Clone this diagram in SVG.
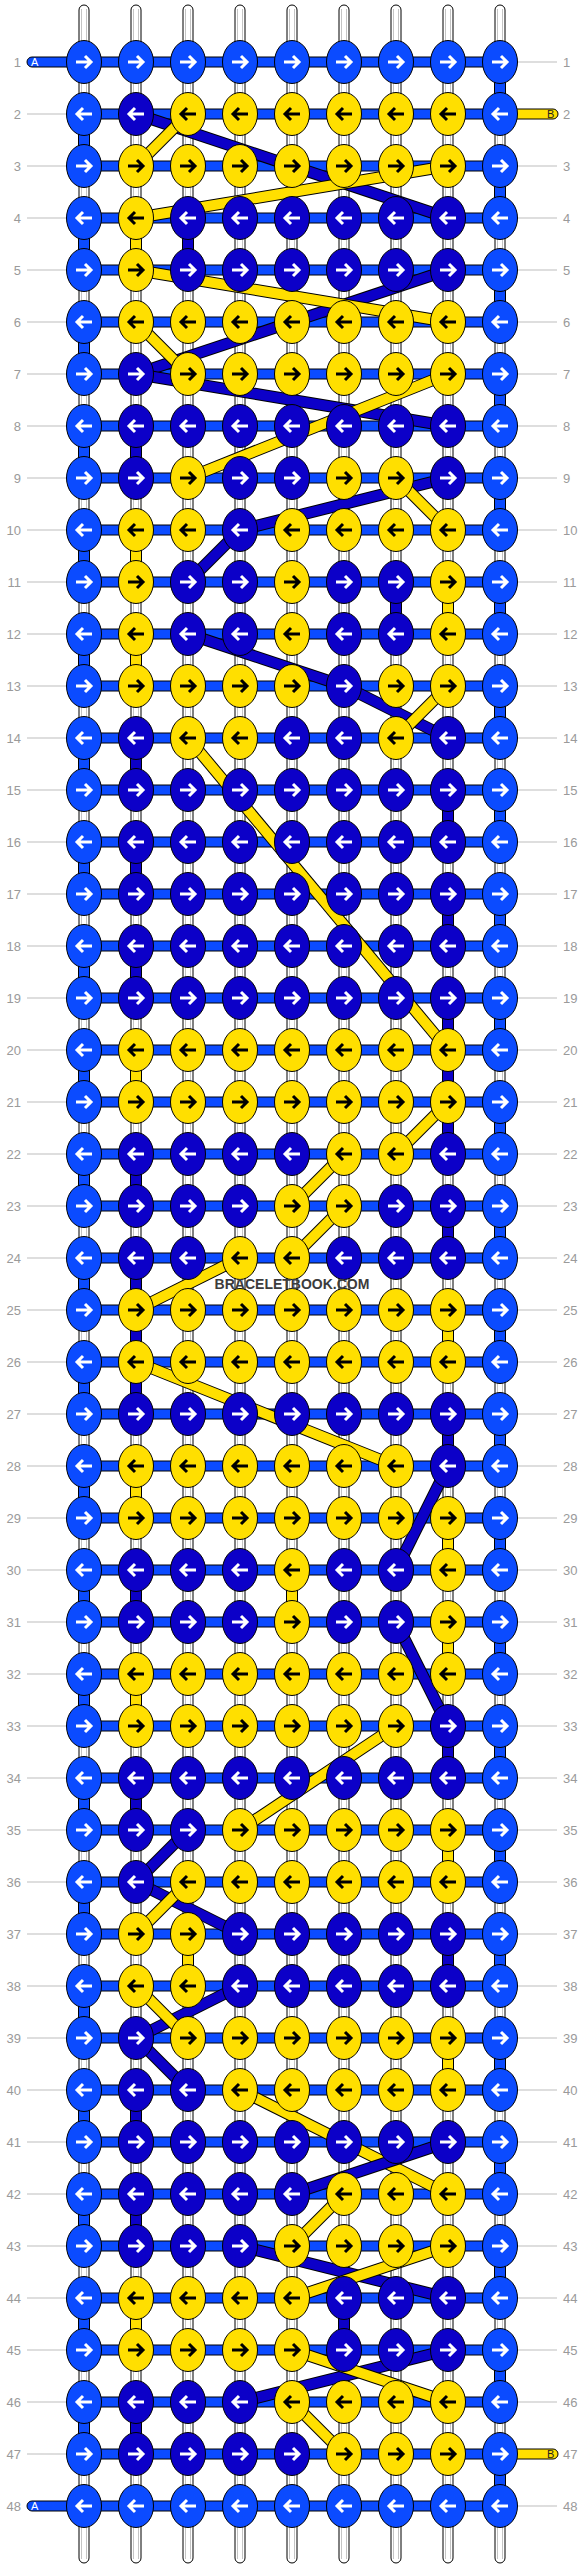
<svg xmlns="http://www.w3.org/2000/svg" xmlns:xlink="http://www.w3.org/1999/xlink" width="584" height="2568" viewBox="0 0 584 2568">
<style>
.th{fill:#fff;stroke:#000;stroke-width:1}
.tg{fill:none;stroke:#c4c4c4;stroke-width:1}
.hb{fill:#0b4bff;stroke:#000;stroke-width:1}
.yt{fill:#ffdf00;stroke:#000;stroke-width:1}
.gl{fill:none;stroke:#bdbdbd;stroke-width:1}
.num{font-family:"Liberation Sans",Arial,sans-serif;font-size:13px;fill:#9a9a9a}
.co{fill:none;stroke:#000;stroke-width:12}
.cy{fill:none;stroke:#ffdf00;stroke-width:10}
.cd{fill:none;stroke:#0c00c8;stroke-width:10}
.cl{fill:none;stroke:#0b4bff;stroke-width:10}
.kl{fill:#0b4bff;stroke:#000;stroke-width:1}
.kd{fill:#0c00c8;stroke:#000;stroke-width:1}
.ky{fill:#ffdf00;stroke:#000;stroke-width:1}
.aw{fill:none;stroke:#fff;stroke-width:3}
.ab{fill:none;stroke:#000;stroke-width:3}
.lab{font-family:"Liberation Sans",Arial,sans-serif;font-size:11px}
</style>
<defs>
<g id="LR"><ellipse rx="17.5" ry="21.5" class="kl"/><path class="aw" d="M-8,0H7M1,-6L7,0L1,6"/></g>
<g id="LL"><ellipse rx="17.5" ry="21.5" class="kl"/><path class="aw" d="M8,0H-7M-1,-6L-7,0L-1,6"/></g>
<g id="DR"><ellipse rx="17.5" ry="21.5" class="kd"/><path class="aw" d="M-8,0H7M1,-6L7,0L1,6"/></g>
<g id="DL"><ellipse rx="17.5" ry="21.5" class="kd"/><path class="aw" d="M8,0H-7M-1,-6L-7,0L-1,6"/></g>
<g id="YR"><ellipse rx="17.5" ry="21.5" class="ky"/><path class="ab" d="M-8,0H7M1,-6L7,0L1,6"/></g>
<g id="YL"><ellipse rx="17.5" ry="21.5" class="ky"/><path class="ab" d="M8,0H-7M-1,-6L-7,0L-1,6"/></g>
</defs>
<rect width="584" height="2568" fill="#fff"/>
<g id="guides">
<path class="gl" d="M27,62H84M27,114H84M27,166H84M27,218H84M27,270H84M27,322H84M27,374H84M27,426H84M27,478H84M27,530H84M27,582H84M27,634H84M27,686H84M27,738H84M27,790H84M27,842H84M27,894H84M27,946H84M27,998H84M27,1050H84M27,1102H84M27,1154H84M27,1206H84M27,1258H84M27,1310H84M27,1362H84M27,1414H84M27,1466H84M27,1518H84M27,1570H84M27,1622H84M27,1674H84M27,1726H84M27,1778H84M27,1830H84M27,1882H84M27,1934H84M27,1986H84M27,2038H84M27,2090H84M27,2142H84M27,2194H84M27,2246H84M27,2298H84M27,2350H84M27,2402H84M27,2454H84M27,2506H84"/>
<path class="gl" d="M500,62H557M500,114H557M500,166H557M500,218H557M500,270H557M500,322H557M500,374H557M500,426H557M500,478H557M500,530H557M500,582H557M500,634H557M500,686H557M500,738H557M500,790H557M500,842H557M500,894H557M500,946H557M500,998H557M500,1050H557M500,1102H557M500,1154H557M500,1206H557M500,1258H557M500,1310H557M500,1362H557M500,1414H557M500,1466H557M500,1518H557M500,1570H557M500,1622H557M500,1674H557M500,1726H557M500,1778H557M500,1830H557M500,1882H557M500,1934H557M500,1986H557M500,2038H557M500,2090H557M500,2142H557M500,2194H557M500,2246H557M500,2298H557M500,2350H557M500,2402H557M500,2454H557M500,2506H557"/>
</g>
<g id="row-numbers" class="num">
<g text-anchor="end">
<text x="21" y="66.5">1</text><text x="21" y="118.5">2</text><text x="21" y="170.5">3</text><text x="21" y="222.5">4</text><text x="21" y="274.5">5</text><text x="21" y="326.5">6</text><text x="21" y="378.5">7</text><text x="21" y="430.5">8</text><text x="21" y="482.5">9</text><text x="21" y="534.5">10</text><text x="21" y="586.5">11</text><text x="21" y="638.5">12</text><text x="21" y="690.5">13</text><text x="21" y="742.5">14</text><text x="21" y="794.5">15</text><text x="21" y="846.5">16</text><text x="21" y="898.5">17</text><text x="21" y="950.5">18</text><text x="21" y="1002.5">19</text><text x="21" y="1054.5">20</text><text x="21" y="1106.5">21</text><text x="21" y="1158.5">22</text><text x="21" y="1210.5">23</text><text x="21" y="1262.5">24</text><text x="21" y="1314.5">25</text><text x="21" y="1366.5">26</text><text x="21" y="1418.5">27</text><text x="21" y="1470.5">28</text><text x="21" y="1522.5">29</text><text x="21" y="1574.5">30</text><text x="21" y="1626.5">31</text><text x="21" y="1678.5">32</text><text x="21" y="1730.5">33</text><text x="21" y="1782.5">34</text><text x="21" y="1834.5">35</text><text x="21" y="1886.5">36</text><text x="21" y="1938.5">37</text><text x="21" y="1990.5">38</text><text x="21" y="2042.5">39</text><text x="21" y="2094.5">40</text><text x="21" y="2146.5">41</text><text x="21" y="2198.5">42</text><text x="21" y="2250.5">43</text><text x="21" y="2302.5">44</text><text x="21" y="2354.5">45</text><text x="21" y="2406.5">46</text><text x="21" y="2458.5">47</text><text x="21" y="2510.5">48</text>
</g>
<g>
<text x="563" y="66.5">1</text><text x="563" y="118.5">2</text><text x="563" y="170.5">3</text><text x="563" y="222.5">4</text><text x="563" y="274.5">5</text><text x="563" y="326.5">6</text><text x="563" y="378.5">7</text><text x="563" y="430.5">8</text><text x="563" y="482.5">9</text><text x="563" y="534.5">10</text><text x="563" y="586.5">11</text><text x="563" y="638.5">12</text><text x="563" y="690.5">13</text><text x="563" y="742.5">14</text><text x="563" y="794.5">15</text><text x="563" y="846.5">16</text><text x="563" y="898.5">17</text><text x="563" y="950.5">18</text><text x="563" y="1002.5">19</text><text x="563" y="1054.5">20</text><text x="563" y="1106.5">21</text><text x="563" y="1158.5">22</text><text x="563" y="1210.5">23</text><text x="563" y="1262.5">24</text><text x="563" y="1314.5">25</text><text x="563" y="1366.5">26</text><text x="563" y="1418.5">27</text><text x="563" y="1470.5">28</text><text x="563" y="1522.5">29</text><text x="563" y="1574.5">30</text><text x="563" y="1626.5">31</text><text x="563" y="1678.5">32</text><text x="563" y="1730.5">33</text><text x="563" y="1782.5">34</text><text x="563" y="1834.5">35</text><text x="563" y="1886.5">36</text><text x="563" y="1938.5">37</text><text x="563" y="1990.5">38</text><text x="563" y="2042.5">39</text><text x="563" y="2094.5">40</text><text x="563" y="2146.5">41</text><text x="563" y="2198.5">42</text><text x="563" y="2250.5">43</text><text x="563" y="2302.5">44</text><text x="563" y="2354.5">45</text><text x="563" y="2406.5">46</text><text x="563" y="2458.5">47</text><text x="563" y="2510.5">48</text>
</g>
</g>
<g id="threads">
<rect class="th" x="79" y="5" width="10" height="2558" rx="5"/><rect class="th" x="131" y="5" width="10" height="2558" rx="5"/><rect class="th" x="183" y="5" width="10" height="2558" rx="5"/><rect class="th" x="235" y="5" width="10" height="2558" rx="5"/><rect class="th" x="287" y="5" width="10" height="2558" rx="5"/><rect class="th" x="339" y="5" width="10" height="2558" rx="5"/><rect class="th" x="391" y="5" width="10" height="2558" rx="5"/><rect class="th" x="443" y="5" width="10" height="2558" rx="5"/><rect class="th" x="495" y="5" width="10" height="2558" rx="5"/>
<path class="tg" d="M81.5,9V2559M86.5,9V2559M133.5,9V2559M138.5,9V2559M185.5,9V2559M190.5,9V2559M237.5,9V2559M242.5,9V2559M289.5,9V2559M294.5,9V2559M341.5,9V2559M346.5,9V2559M393.5,9V2559M398.5,9V2559M445.5,9V2559M450.5,9V2559M497.5,9V2559M502.5,9V2559"/>
</g>
<g id="rows-bars">
<path class="hb" d="M84,109h416v10h-416zM84,161h416v10h-416zM84,213h416v10h-416zM84,265h416v10h-416zM84,317h416v10h-416zM84,369h416v10h-416zM84,421h416v10h-416zM84,473h416v10h-416zM84,525h416v10h-416zM84,577h416v10h-416zM84,629h416v10h-416zM84,681h416v10h-416zM84,733h416v10h-416zM84,785h416v10h-416zM84,837h416v10h-416zM84,889h416v10h-416zM84,941h416v10h-416zM84,993h416v10h-416zM84,1045h416v10h-416zM84,1097h416v10h-416zM84,1149h416v10h-416zM84,1201h416v10h-416zM84,1253h416v10h-416zM84,1305h416v10h-416zM84,1357h416v10h-416zM84,1409h416v10h-416zM84,1461h416v10h-416zM84,1513h416v10h-416zM84,1565h416v10h-416zM84,1617h416v10h-416zM84,1669h416v10h-416zM84,1721h416v10h-416zM84,1773h416v10h-416zM84,1825h416v10h-416zM84,1877h416v10h-416zM84,1929h416v10h-416zM84,1981h416v10h-416zM84,2033h416v10h-416zM84,2085h416v10h-416zM84,2137h416v10h-416zM84,2189h416v10h-416zM84,2241h416v10h-416zM84,2293h416v10h-416zM84,2345h416v10h-416zM84,2397h416v10h-416zM84,2449h416v10h-416z"/>
<path id="tailA1" class="hb" d="M500,57H32A5,5 0 0 0 32,67H500Z"/>
<path id="tailA48" class="hb" d="M500,2501H32A5,5 0 0 0 32,2511H500Z"/>
<path id="tailB2" class="yt" d="M500,109H553A5,5 0 0 1 553,119H500Z"/>
<path id="tailB47" class="yt" d="M500,2449H553A5,5 0 0 1 553,2459H500Z"/>
</g>
<g id="connectors">
<path class="co" d="M500,62V114M500,166V218M500,270V322M500,374V426M500,478V530M500,582V634M500,686V738M500,790V842M500,894V946M500,998V1050M500,1102V1154M500,1206V1258M500,1310V1362M500,1414V1466M500,1518V1570M500,1622V1674M500,1726V1778M500,1830V1882M500,1934V1986M500,2038V2090M500,2142V2194M500,2246V2298M500,2350V2402M500,2454V2506M84,114V166M84,218V270M84,322V374M84,426V478M84,530V582M84,634V686M84,738V790M84,842V894M84,946V998M84,1050V1102M84,1154V1206M84,1258V1310M84,1362V1414M84,1466V1518M84,1570V1622M84,1674V1726M84,1778V1830M84,1882V1934M84,1986V2038M84,2090V2142M84,2194V2246M84,2298V2350M84,2402V2454"/>
<path class="cl" d="M500,62V114M500,166V218M500,270V322M500,374V426M500,478V530M500,582V634M500,686V738M500,790V842M500,894V946M500,998V1050M500,1102V1154M500,1206V1258M500,1310V1362M500,1414V1466M500,1518V1570M500,1622V1674M500,1726V1778M500,1830V1882M500,1934V1986M500,2038V2090M500,2142V2194M500,2246V2298M500,2350V2402M500,2454V2506M84,114V166M84,218V270M84,322V374M84,426V478M84,530V582M84,634V686M84,738V790M84,842V894M84,946V998M84,1050V1102M84,1154V1206M84,1258V1310M84,1362V1414M84,1466V1518M84,1570V1622M84,1674V1726M84,1778V1830M84,1882V1934M84,1986V2038M84,2090V2142M84,2194V2246M84,2298V2350M84,2402V2454"/>
<path class="co" d="M136,114L448,218"/><path class="cd" d="M136,114L448,218"/>
<path class="co" d="M188,114L136,166"/><path class="cy" d="M188,114L136,166"/>
<path class="co" d="M448,166L136,218"/><path class="cy" d="M448,166L136,218"/>
<path class="co" d="M188,218L188,270"/><path class="cd" d="M188,218L188,270"/>
<path class="co" d="M136,218L136,270"/><path class="cy" d="M136,218L136,270"/>
<path class="co" d="M448,270L136,374"/><path class="cd" d="M448,270L136,374"/>
<path class="co" d="M136,270L448,322"/><path class="cy" d="M136,270L448,322"/>
<path class="co" d="M136,322L188,374"/><path class="cy" d="M136,322L188,374"/>
<path class="co" d="M136,374L448,426"/><path class="cd" d="M136,374L448,426"/>
<path class="co" d="M448,374L188,478"/><path class="cy" d="M448,374L188,478"/>
<path class="co" d="M136,426L136,478"/><path class="cd" d="M136,426L136,478"/>
<path class="co" d="M448,478L240,530"/><path class="cd" d="M448,478L240,530"/>
<path class="co" d="M396,478L448,530"/><path class="cy" d="M396,478L448,530"/>
<path class="co" d="M240,530L188,582"/><path class="cd" d="M240,530L188,582"/>
<path class="co" d="M136,530L136,582"/><path class="cy" d="M136,530L136,582"/>
<path class="co" d="M396,582L396,634"/><path class="cd" d="M396,582L396,634"/>
<path class="co" d="M448,582L448,634"/><path class="cy" d="M448,582L448,634"/>
<path class="co" d="M188,634L344,686"/><path class="cd" d="M188,634L344,686"/>
<path class="co" d="M136,634L136,686"/><path class="cy" d="M136,634L136,686"/>
<path class="co" d="M344,686L448,738"/><path class="cd" d="M344,686L448,738"/>
<path class="co" d="M448,686L396,738"/><path class="cy" d="M448,686L396,738"/>
<path class="co" d="M136,738L136,790"/><path class="cd" d="M136,738L136,790"/>
<path class="co" d="M188,738L448,1050"/><path class="cy" d="M188,738L448,1050"/>
<path class="co" d="M448,790L448,842"/><path class="cd" d="M448,790L448,842"/>
<path class="co" d="M136,842L136,894"/><path class="cd" d="M136,842L136,894"/>
<path class="co" d="M448,894L448,946"/><path class="cd" d="M448,894L448,946"/>
<path class="co" d="M136,946L136,998"/><path class="cd" d="M136,946L136,998"/>
<path class="co" d="M448,998L448,1154"/><path class="cd" d="M448,998L448,1154"/>
<path class="co" d="M136,1050L136,1102"/><path class="cy" d="M136,1050L136,1102"/>
<path class="co" d="M448,1102L396,1154"/><path class="cy" d="M448,1102L396,1154"/>
<path class="co" d="M136,1154L136,1206"/><path class="cd" d="M136,1154L136,1206"/>
<path class="co" d="M344,1154L292,1206"/><path class="cy" d="M344,1154L292,1206"/>
<path class="co" d="M448,1206L448,1258"/><path class="cd" d="M448,1206L448,1258"/>
<path class="co" d="M344,1206L292,1258"/><path class="cy" d="M344,1206L292,1258"/>
<path class="co" d="M136,1258L136,1414"/><path class="cd" d="M136,1258L136,1414"/>
<path class="co" d="M240,1258L136,1310"/><path class="cy" d="M240,1258L136,1310"/>
<path class="co" d="M448,1310L448,1362"/><path class="cy" d="M448,1310L448,1362"/>
<path class="co" d="M136,1362L396,1466"/><path class="cy" d="M136,1362L396,1466"/>
<path class="co" d="M448,1414L448,1466"/><path class="cd" d="M448,1414L448,1466"/>
<path class="co" d="M448,1466L396,1570"/><path class="cd" d="M448,1466L396,1570"/>
<path class="co" d="M136,1466L136,1518"/><path class="cy" d="M136,1466L136,1518"/>
<path class="co" d="M448,1518L448,1570"/><path class="cy" d="M448,1518L448,1570"/>
<path class="co" d="M136,1570L136,1622"/><path class="cd" d="M136,1570L136,1622"/>
<path class="co" d="M292,1570L292,1622"/><path class="cy" d="M292,1570L292,1622"/>
<path class="co" d="M396,1622L448,1726"/><path class="cd" d="M396,1622L448,1726"/>
<path class="co" d="M448,1622L448,1674"/><path class="cy" d="M448,1622L448,1674"/>
<path class="co" d="M136,1674L136,1726"/><path class="cy" d="M136,1674L136,1726"/>
<path class="co" d="M448,1726L448,1778"/><path class="cd" d="M448,1726L448,1778"/>
<path class="co" d="M396,1726L240,1830"/><path class="cy" d="M396,1726L240,1830"/>
<path class="co" d="M136,1778L136,1830"/><path class="cd" d="M136,1778L136,1830"/>
<path class="co" d="M188,1830L136,1882"/><path class="cd" d="M188,1830L136,1882"/>
<path class="co" d="M448,1830L448,1882"/><path class="cy" d="M448,1830L448,1882"/>
<path class="co" d="M136,1882L240,1934"/><path class="cd" d="M136,1882L240,1934"/>
<path class="co" d="M188,1882L136,1934"/><path class="cy" d="M188,1882L136,1934"/>
<path class="co" d="M448,1934L448,1986"/><path class="cd" d="M448,1934L448,1986"/>
<path class="co" d="M188,1934L188,1986"/><path class="cy" d="M188,1934L188,1986"/>
<path class="co" d="M240,1986L136,2038"/><path class="cd" d="M240,1986L136,2038"/>
<path class="co" d="M136,1986L188,2038"/><path class="cy" d="M136,1986L188,2038"/>
<path class="co" d="M136,2038L188,2090"/><path class="cd" d="M136,2038L188,2090"/>
<path class="co" d="M448,2038L448,2090"/><path class="cy" d="M448,2038L448,2090"/>
<path class="co" d="M136,2090L136,2142"/><path class="cd" d="M136,2090L136,2142"/>
<path class="co" d="M240,2090L448,2194"/><path class="cy" d="M240,2090L448,2194"/>
<path class="co" d="M448,2142L292,2194"/><path class="cd" d="M448,2142L292,2194"/>
<path class="co" d="M136,2194L136,2246"/><path class="cd" d="M136,2194L136,2246"/>
<path class="co" d="M344,2194L292,2246"/><path class="cy" d="M344,2194L292,2246"/>
<path class="co" d="M240,2246L448,2298"/><path class="cd" d="M240,2246L448,2298"/>
<path class="co" d="M448,2246L292,2298"/><path class="cy" d="M448,2246L292,2298"/>
<path class="co" d="M344,2298L344,2350"/><path class="cd" d="M344,2298L344,2350"/>
<path class="co" d="M136,2298L136,2350"/><path class="cy" d="M136,2298L136,2350"/>
<path class="co" d="M448,2350L240,2402"/><path class="cd" d="M448,2350L240,2402"/>
<path class="co" d="M292,2350L448,2402"/><path class="cy" d="M292,2350L448,2402"/>
<path class="co" d="M136,2402L136,2454"/><path class="cd" d="M136,2402L136,2454"/>
<path class="co" d="M292,2402L344,2454"/><path class="cy" d="M292,2402L344,2454"/>
</g>
<g id="knots">
<g id="row1" transform="translate(0,62)"><g id="n1-1"><use href="#LR" x="84"/></g><g id="n1-2"><use href="#LR" x="136"/></g><g id="n1-3"><use href="#LR" x="188"/></g><g id="n1-4"><use href="#LR" x="240"/></g><g id="n1-5"><use href="#LR" x="292"/></g><g id="n1-6"><use href="#LR" x="344"/></g><g id="n1-7"><use href="#LR" x="396"/></g><g id="n1-8"><use href="#LR" x="448"/></g><g id="n1-9"><use href="#LR" x="500"/></g></g>
<g id="row2" transform="translate(0,114)"><g id="n2-1"><use href="#LL" x="84"/></g><g id="n2-2"><use href="#DL" x="136"/></g><g id="n2-3"><use href="#YL" x="188"/></g><g id="n2-4"><use href="#YL" x="240"/></g><g id="n2-5"><use href="#YL" x="292"/></g><g id="n2-6"><use href="#YL" x="344"/></g><g id="n2-7"><use href="#YL" x="396"/></g><g id="n2-8"><use href="#YL" x="448"/></g><g id="n2-9"><use href="#LL" x="500"/></g></g>
<g id="row3" transform="translate(0,166)"><g id="n3-1"><use href="#LR" x="84"/></g><g id="n3-2"><use href="#YR" x="136"/></g><g id="n3-3"><use href="#YR" x="188"/></g><g id="n3-4"><use href="#YR" x="240"/></g><g id="n3-5"><use href="#YR" x="292"/></g><g id="n3-6"><use href="#YR" x="344"/></g><g id="n3-7"><use href="#YR" x="396"/></g><g id="n3-8"><use href="#YR" x="448"/></g><g id="n3-9"><use href="#LR" x="500"/></g></g>
<g id="row4" transform="translate(0,218)"><g id="n4-1"><use href="#LL" x="84"/></g><g id="n4-2"><use href="#YL" x="136"/></g><g id="n4-3"><use href="#DL" x="188"/></g><g id="n4-4"><use href="#DL" x="240"/></g><g id="n4-5"><use href="#DL" x="292"/></g><g id="n4-6"><use href="#DL" x="344"/></g><g id="n4-7"><use href="#DL" x="396"/></g><g id="n4-8"><use href="#DL" x="448"/></g><g id="n4-9"><use href="#LL" x="500"/></g></g>
<g id="row5" transform="translate(0,270)"><g id="n5-1"><use href="#LR" x="84"/></g><g id="n5-2"><use href="#YR" x="136"/></g><g id="n5-3"><use href="#DR" x="188"/></g><g id="n5-4"><use href="#DR" x="240"/></g><g id="n5-5"><use href="#DR" x="292"/></g><g id="n5-6"><use href="#DR" x="344"/></g><g id="n5-7"><use href="#DR" x="396"/></g><g id="n5-8"><use href="#DR" x="448"/></g><g id="n5-9"><use href="#LR" x="500"/></g></g>
<g id="row6" transform="translate(0,322)"><g id="n6-1"><use href="#LL" x="84"/></g><g id="n6-2"><use href="#YL" x="136"/></g><g id="n6-3"><use href="#YL" x="188"/></g><g id="n6-4"><use href="#YL" x="240"/></g><g id="n6-5"><use href="#YL" x="292"/></g><g id="n6-6"><use href="#YL" x="344"/></g><g id="n6-7"><use href="#YL" x="396"/></g><g id="n6-8"><use href="#YL" x="448"/></g><g id="n6-9"><use href="#LL" x="500"/></g></g>
<g id="row7" transform="translate(0,374)"><g id="n7-1"><use href="#LR" x="84"/></g><g id="n7-2"><use href="#DR" x="136"/></g><g id="n7-3"><use href="#YR" x="188"/></g><g id="n7-4"><use href="#YR" x="240"/></g><g id="n7-5"><use href="#YR" x="292"/></g><g id="n7-6"><use href="#YR" x="344"/></g><g id="n7-7"><use href="#YR" x="396"/></g><g id="n7-8"><use href="#YR" x="448"/></g><g id="n7-9"><use href="#LR" x="500"/></g></g>
<g id="row8" transform="translate(0,426)"><g id="n8-1"><use href="#LL" x="84"/></g><g id="n8-2"><use href="#DL" x="136"/></g><g id="n8-3"><use href="#DL" x="188"/></g><g id="n8-4"><use href="#DL" x="240"/></g><g id="n8-5"><use href="#DL" x="292"/></g><g id="n8-6"><use href="#DL" x="344"/></g><g id="n8-7"><use href="#DL" x="396"/></g><g id="n8-8"><use href="#DL" x="448"/></g><g id="n8-9"><use href="#LL" x="500"/></g></g>
<g id="row9" transform="translate(0,478)"><g id="n9-1"><use href="#LR" x="84"/></g><g id="n9-2"><use href="#DR" x="136"/></g><g id="n9-3"><use href="#YR" x="188"/></g><g id="n9-4"><use href="#DR" x="240"/></g><g id="n9-5"><use href="#DR" x="292"/></g><g id="n9-6"><use href="#YR" x="344"/></g><g id="n9-7"><use href="#YR" x="396"/></g><g id="n9-8"><use href="#DR" x="448"/></g><g id="n9-9"><use href="#LR" x="500"/></g></g>
<g id="row10" transform="translate(0,530)"><g id="n10-1"><use href="#LL" x="84"/></g><g id="n10-2"><use href="#YL" x="136"/></g><g id="n10-3"><use href="#YL" x="188"/></g><g id="n10-4"><use href="#DL" x="240"/></g><g id="n10-5"><use href="#YL" x="292"/></g><g id="n10-6"><use href="#YL" x="344"/></g><g id="n10-7"><use href="#YL" x="396"/></g><g id="n10-8"><use href="#YL" x="448"/></g><g id="n10-9"><use href="#LL" x="500"/></g></g>
<g id="row11" transform="translate(0,582)"><g id="n11-1"><use href="#LR" x="84"/></g><g id="n11-2"><use href="#YR" x="136"/></g><g id="n11-3"><use href="#DR" x="188"/></g><g id="n11-4"><use href="#DR" x="240"/></g><g id="n11-5"><use href="#YR" x="292"/></g><g id="n11-6"><use href="#DR" x="344"/></g><g id="n11-7"><use href="#DR" x="396"/></g><g id="n11-8"><use href="#YR" x="448"/></g><g id="n11-9"><use href="#LR" x="500"/></g></g>
<g id="row12" transform="translate(0,634)"><g id="n12-1"><use href="#LL" x="84"/></g><g id="n12-2"><use href="#YL" x="136"/></g><g id="n12-3"><use href="#DL" x="188"/></g><g id="n12-4"><use href="#DL" x="240"/></g><g id="n12-5"><use href="#YL" x="292"/></g><g id="n12-6"><use href="#DL" x="344"/></g><g id="n12-7"><use href="#DL" x="396"/></g><g id="n12-8"><use href="#YL" x="448"/></g><g id="n12-9"><use href="#LL" x="500"/></g></g>
<g id="row13" transform="translate(0,686)"><g id="n13-1"><use href="#LR" x="84"/></g><g id="n13-2"><use href="#YR" x="136"/></g><g id="n13-3"><use href="#YR" x="188"/></g><g id="n13-4"><use href="#YR" x="240"/></g><g id="n13-5"><use href="#YR" x="292"/></g><g id="n13-6"><use href="#DR" x="344"/></g><g id="n13-7"><use href="#YR" x="396"/></g><g id="n13-8"><use href="#YR" x="448"/></g><g id="n13-9"><use href="#LR" x="500"/></g></g>
<g id="row14" transform="translate(0,738)"><g id="n14-1"><use href="#LL" x="84"/></g><g id="n14-2"><use href="#DL" x="136"/></g><g id="n14-3"><use href="#YL" x="188"/></g><g id="n14-4"><use href="#YL" x="240"/></g><g id="n14-5"><use href="#DL" x="292"/></g><g id="n14-6"><use href="#DL" x="344"/></g><g id="n14-7"><use href="#YL" x="396"/></g><g id="n14-8"><use href="#DL" x="448"/></g><g id="n14-9"><use href="#LL" x="500"/></g></g>
<g id="row15" transform="translate(0,790)"><g id="n15-1"><use href="#LR" x="84"/></g><g id="n15-2"><use href="#DR" x="136"/></g><g id="n15-3"><use href="#DR" x="188"/></g><g id="n15-4"><use href="#DR" x="240"/></g><g id="n15-5"><use href="#DR" x="292"/></g><g id="n15-6"><use href="#DR" x="344"/></g><g id="n15-7"><use href="#DR" x="396"/></g><g id="n15-8"><use href="#DR" x="448"/></g><g id="n15-9"><use href="#LR" x="500"/></g></g>
<g id="row16" transform="translate(0,842)"><g id="n16-1"><use href="#LL" x="84"/></g><g id="n16-2"><use href="#DL" x="136"/></g><g id="n16-3"><use href="#DL" x="188"/></g><g id="n16-4"><use href="#DL" x="240"/></g><g id="n16-5"><use href="#DL" x="292"/></g><g id="n16-6"><use href="#DL" x="344"/></g><g id="n16-7"><use href="#DL" x="396"/></g><g id="n16-8"><use href="#DL" x="448"/></g><g id="n16-9"><use href="#LL" x="500"/></g></g>
<g id="row17" transform="translate(0,894)"><g id="n17-1"><use href="#LR" x="84"/></g><g id="n17-2"><use href="#DR" x="136"/></g><g id="n17-3"><use href="#DR" x="188"/></g><g id="n17-4"><use href="#DR" x="240"/></g><g id="n17-5"><use href="#DR" x="292"/></g><g id="n17-6"><use href="#DR" x="344"/></g><g id="n17-7"><use href="#DR" x="396"/></g><g id="n17-8"><use href="#DR" x="448"/></g><g id="n17-9"><use href="#LR" x="500"/></g></g>
<g id="row18" transform="translate(0,946)"><g id="n18-1"><use href="#LL" x="84"/></g><g id="n18-2"><use href="#DL" x="136"/></g><g id="n18-3"><use href="#DL" x="188"/></g><g id="n18-4"><use href="#DL" x="240"/></g><g id="n18-5"><use href="#DL" x="292"/></g><g id="n18-6"><use href="#DL" x="344"/></g><g id="n18-7"><use href="#DL" x="396"/></g><g id="n18-8"><use href="#DL" x="448"/></g><g id="n18-9"><use href="#LL" x="500"/></g></g>
<g id="row19" transform="translate(0,998)"><g id="n19-1"><use href="#LR" x="84"/></g><g id="n19-2"><use href="#DR" x="136"/></g><g id="n19-3"><use href="#DR" x="188"/></g><g id="n19-4"><use href="#DR" x="240"/></g><g id="n19-5"><use href="#DR" x="292"/></g><g id="n19-6"><use href="#DR" x="344"/></g><g id="n19-7"><use href="#DR" x="396"/></g><g id="n19-8"><use href="#DR" x="448"/></g><g id="n19-9"><use href="#LR" x="500"/></g></g>
<g id="row20" transform="translate(0,1050)"><g id="n20-1"><use href="#LL" x="84"/></g><g id="n20-2"><use href="#YL" x="136"/></g><g id="n20-3"><use href="#YL" x="188"/></g><g id="n20-4"><use href="#YL" x="240"/></g><g id="n20-5"><use href="#YL" x="292"/></g><g id="n20-6"><use href="#YL" x="344"/></g><g id="n20-7"><use href="#YL" x="396"/></g><g id="n20-8"><use href="#YL" x="448"/></g><g id="n20-9"><use href="#LL" x="500"/></g></g>
<g id="row21" transform="translate(0,1102)"><g id="n21-1"><use href="#LR" x="84"/></g><g id="n21-2"><use href="#YR" x="136"/></g><g id="n21-3"><use href="#YR" x="188"/></g><g id="n21-4"><use href="#YR" x="240"/></g><g id="n21-5"><use href="#YR" x="292"/></g><g id="n21-6"><use href="#YR" x="344"/></g><g id="n21-7"><use href="#YR" x="396"/></g><g id="n21-8"><use href="#YR" x="448"/></g><g id="n21-9"><use href="#LR" x="500"/></g></g>
<g id="row22" transform="translate(0,1154)"><g id="n22-1"><use href="#LL" x="84"/></g><g id="n22-2"><use href="#DL" x="136"/></g><g id="n22-3"><use href="#DL" x="188"/></g><g id="n22-4"><use href="#DL" x="240"/></g><g id="n22-5"><use href="#DL" x="292"/></g><g id="n22-6"><use href="#YL" x="344"/></g><g id="n22-7"><use href="#YL" x="396"/></g><g id="n22-8"><use href="#DL" x="448"/></g><g id="n22-9"><use href="#LL" x="500"/></g></g>
<g id="row23" transform="translate(0,1206)"><g id="n23-1"><use href="#LR" x="84"/></g><g id="n23-2"><use href="#DR" x="136"/></g><g id="n23-3"><use href="#DR" x="188"/></g><g id="n23-4"><use href="#DR" x="240"/></g><g id="n23-5"><use href="#YR" x="292"/></g><g id="n23-6"><use href="#YR" x="344"/></g><g id="n23-7"><use href="#DR" x="396"/></g><g id="n23-8"><use href="#DR" x="448"/></g><g id="n23-9"><use href="#LR" x="500"/></g></g>
<g id="row24" transform="translate(0,1258)"><g id="n24-1"><use href="#LL" x="84"/></g><g id="n24-2"><use href="#DL" x="136"/></g><g id="n24-3"><use href="#DL" x="188"/></g><g id="n24-4"><use href="#YL" x="240"/></g><g id="n24-5"><use href="#YL" x="292"/></g><g id="n24-6"><use href="#DL" x="344"/></g><g id="n24-7"><use href="#DL" x="396"/></g><g id="n24-8"><use href="#DL" x="448"/></g><g id="n24-9"><use href="#LL" x="500"/></g></g>
<g id="row25" transform="translate(0,1310)"><g id="n25-1"><use href="#LR" x="84"/></g><g id="n25-2"><use href="#YR" x="136"/></g><g id="n25-3"><use href="#YR" x="188"/></g><g id="n25-4"><use href="#YR" x="240"/></g><g id="n25-5"><use href="#YR" x="292"/></g><g id="n25-6"><use href="#YR" x="344"/></g><g id="n25-7"><use href="#YR" x="396"/></g><g id="n25-8"><use href="#YR" x="448"/></g><g id="n25-9"><use href="#LR" x="500"/></g></g>
<g id="row26" transform="translate(0,1362)"><g id="n26-1"><use href="#LL" x="84"/></g><g id="n26-2"><use href="#YL" x="136"/></g><g id="n26-3"><use href="#YL" x="188"/></g><g id="n26-4"><use href="#YL" x="240"/></g><g id="n26-5"><use href="#YL" x="292"/></g><g id="n26-6"><use href="#YL" x="344"/></g><g id="n26-7"><use href="#YL" x="396"/></g><g id="n26-8"><use href="#YL" x="448"/></g><g id="n26-9"><use href="#LL" x="500"/></g></g>
<g id="row27" transform="translate(0,1414)"><g id="n27-1"><use href="#LR" x="84"/></g><g id="n27-2"><use href="#DR" x="136"/></g><g id="n27-3"><use href="#DR" x="188"/></g><g id="n27-4"><use href="#DR" x="240"/></g><g id="n27-5"><use href="#DR" x="292"/></g><g id="n27-6"><use href="#DR" x="344"/></g><g id="n27-7"><use href="#DR" x="396"/></g><g id="n27-8"><use href="#DR" x="448"/></g><g id="n27-9"><use href="#LR" x="500"/></g></g>
<g id="row28" transform="translate(0,1466)"><g id="n28-1"><use href="#LL" x="84"/></g><g id="n28-2"><use href="#YL" x="136"/></g><g id="n28-3"><use href="#YL" x="188"/></g><g id="n28-4"><use href="#YL" x="240"/></g><g id="n28-5"><use href="#YL" x="292"/></g><g id="n28-6"><use href="#YL" x="344"/></g><g id="n28-7"><use href="#YL" x="396"/></g><g id="n28-8"><use href="#DL" x="448"/></g><g id="n28-9"><use href="#LL" x="500"/></g></g>
<g id="row29" transform="translate(0,1518)"><g id="n29-1"><use href="#LR" x="84"/></g><g id="n29-2"><use href="#YR" x="136"/></g><g id="n29-3"><use href="#YR" x="188"/></g><g id="n29-4"><use href="#YR" x="240"/></g><g id="n29-5"><use href="#YR" x="292"/></g><g id="n29-6"><use href="#YR" x="344"/></g><g id="n29-7"><use href="#YR" x="396"/></g><g id="n29-8"><use href="#YR" x="448"/></g><g id="n29-9"><use href="#LR" x="500"/></g></g>
<g id="row30" transform="translate(0,1570)"><g id="n30-1"><use href="#LL" x="84"/></g><g id="n30-2"><use href="#DL" x="136"/></g><g id="n30-3"><use href="#DL" x="188"/></g><g id="n30-4"><use href="#DL" x="240"/></g><g id="n30-5"><use href="#YL" x="292"/></g><g id="n30-6"><use href="#DL" x="344"/></g><g id="n30-7"><use href="#DL" x="396"/></g><g id="n30-8"><use href="#YL" x="448"/></g><g id="n30-9"><use href="#LL" x="500"/></g></g>
<g id="row31" transform="translate(0,1622)"><g id="n31-1"><use href="#LR" x="84"/></g><g id="n31-2"><use href="#DR" x="136"/></g><g id="n31-3"><use href="#DR" x="188"/></g><g id="n31-4"><use href="#DR" x="240"/></g><g id="n31-5"><use href="#YR" x="292"/></g><g id="n31-6"><use href="#DR" x="344"/></g><g id="n31-7"><use href="#DR" x="396"/></g><g id="n31-8"><use href="#YR" x="448"/></g><g id="n31-9"><use href="#LR" x="500"/></g></g>
<g id="row32" transform="translate(0,1674)"><g id="n32-1"><use href="#LL" x="84"/></g><g id="n32-2"><use href="#YL" x="136"/></g><g id="n32-3"><use href="#YL" x="188"/></g><g id="n32-4"><use href="#YL" x="240"/></g><g id="n32-5"><use href="#YL" x="292"/></g><g id="n32-6"><use href="#YL" x="344"/></g><g id="n32-7"><use href="#YL" x="396"/></g><g id="n32-8"><use href="#YL" x="448"/></g><g id="n32-9"><use href="#LL" x="500"/></g></g>
<g id="row33" transform="translate(0,1726)"><g id="n33-1"><use href="#LR" x="84"/></g><g id="n33-2"><use href="#YR" x="136"/></g><g id="n33-3"><use href="#YR" x="188"/></g><g id="n33-4"><use href="#YR" x="240"/></g><g id="n33-5"><use href="#YR" x="292"/></g><g id="n33-6"><use href="#YR" x="344"/></g><g id="n33-7"><use href="#YR" x="396"/></g><g id="n33-8"><use href="#DR" x="448"/></g><g id="n33-9"><use href="#LR" x="500"/></g></g>
<g id="row34" transform="translate(0,1778)"><g id="n34-1"><use href="#LL" x="84"/></g><g id="n34-2"><use href="#DL" x="136"/></g><g id="n34-3"><use href="#DL" x="188"/></g><g id="n34-4"><use href="#DL" x="240"/></g><g id="n34-5"><use href="#DL" x="292"/></g><g id="n34-6"><use href="#DL" x="344"/></g><g id="n34-7"><use href="#DL" x="396"/></g><g id="n34-8"><use href="#DL" x="448"/></g><g id="n34-9"><use href="#LL" x="500"/></g></g>
<g id="row35" transform="translate(0,1830)"><g id="n35-1"><use href="#LR" x="84"/></g><g id="n35-2"><use href="#DR" x="136"/></g><g id="n35-3"><use href="#DR" x="188"/></g><g id="n35-4"><use href="#YR" x="240"/></g><g id="n35-5"><use href="#YR" x="292"/></g><g id="n35-6"><use href="#YR" x="344"/></g><g id="n35-7"><use href="#YR" x="396"/></g><g id="n35-8"><use href="#YR" x="448"/></g><g id="n35-9"><use href="#LR" x="500"/></g></g>
<g id="row36" transform="translate(0,1882)"><g id="n36-1"><use href="#LL" x="84"/></g><g id="n36-2"><use href="#DL" x="136"/></g><g id="n36-3"><use href="#YL" x="188"/></g><g id="n36-4"><use href="#YL" x="240"/></g><g id="n36-5"><use href="#YL" x="292"/></g><g id="n36-6"><use href="#YL" x="344"/></g><g id="n36-7"><use href="#YL" x="396"/></g><g id="n36-8"><use href="#YL" x="448"/></g><g id="n36-9"><use href="#LL" x="500"/></g></g>
<g id="row37" transform="translate(0,1934)"><g id="n37-1"><use href="#LR" x="84"/></g><g id="n37-2"><use href="#YR" x="136"/></g><g id="n37-3"><use href="#YR" x="188"/></g><g id="n37-4"><use href="#DR" x="240"/></g><g id="n37-5"><use href="#DR" x="292"/></g><g id="n37-6"><use href="#DR" x="344"/></g><g id="n37-7"><use href="#DR" x="396"/></g><g id="n37-8"><use href="#DR" x="448"/></g><g id="n37-9"><use href="#LR" x="500"/></g></g>
<g id="row38" transform="translate(0,1986)"><g id="n38-1"><use href="#LL" x="84"/></g><g id="n38-2"><use href="#YL" x="136"/></g><g id="n38-3"><use href="#YL" x="188"/></g><g id="n38-4"><use href="#DL" x="240"/></g><g id="n38-5"><use href="#DL" x="292"/></g><g id="n38-6"><use href="#DL" x="344"/></g><g id="n38-7"><use href="#DL" x="396"/></g><g id="n38-8"><use href="#DL" x="448"/></g><g id="n38-9"><use href="#LL" x="500"/></g></g>
<g id="row39" transform="translate(0,2038)"><g id="n39-1"><use href="#LR" x="84"/></g><g id="n39-2"><use href="#DR" x="136"/></g><g id="n39-3"><use href="#YR" x="188"/></g><g id="n39-4"><use href="#YR" x="240"/></g><g id="n39-5"><use href="#YR" x="292"/></g><g id="n39-6"><use href="#YR" x="344"/></g><g id="n39-7"><use href="#YR" x="396"/></g><g id="n39-8"><use href="#YR" x="448"/></g><g id="n39-9"><use href="#LR" x="500"/></g></g>
<g id="row40" transform="translate(0,2090)"><g id="n40-1"><use href="#LL" x="84"/></g><g id="n40-2"><use href="#DL" x="136"/></g><g id="n40-3"><use href="#DL" x="188"/></g><g id="n40-4"><use href="#YL" x="240"/></g><g id="n40-5"><use href="#YL" x="292"/></g><g id="n40-6"><use href="#YL" x="344"/></g><g id="n40-7"><use href="#YL" x="396"/></g><g id="n40-8"><use href="#YL" x="448"/></g><g id="n40-9"><use href="#LL" x="500"/></g></g>
<g id="row41" transform="translate(0,2142)"><g id="n41-1"><use href="#LR" x="84"/></g><g id="n41-2"><use href="#DR" x="136"/></g><g id="n41-3"><use href="#DR" x="188"/></g><g id="n41-4"><use href="#DR" x="240"/></g><g id="n41-5"><use href="#DR" x="292"/></g><g id="n41-6"><use href="#DR" x="344"/></g><g id="n41-7"><use href="#DR" x="396"/></g><g id="n41-8"><use href="#DR" x="448"/></g><g id="n41-9"><use href="#LR" x="500"/></g></g>
<g id="row42" transform="translate(0,2194)"><g id="n42-1"><use href="#LL" x="84"/></g><g id="n42-2"><use href="#DL" x="136"/></g><g id="n42-3"><use href="#DL" x="188"/></g><g id="n42-4"><use href="#DL" x="240"/></g><g id="n42-5"><use href="#DL" x="292"/></g><g id="n42-6"><use href="#YL" x="344"/></g><g id="n42-7"><use href="#YL" x="396"/></g><g id="n42-8"><use href="#YL" x="448"/></g><g id="n42-9"><use href="#LL" x="500"/></g></g>
<g id="row43" transform="translate(0,2246)"><g id="n43-1"><use href="#LR" x="84"/></g><g id="n43-2"><use href="#DR" x="136"/></g><g id="n43-3"><use href="#DR" x="188"/></g><g id="n43-4"><use href="#DR" x="240"/></g><g id="n43-5"><use href="#YR" x="292"/></g><g id="n43-6"><use href="#YR" x="344"/></g><g id="n43-7"><use href="#YR" x="396"/></g><g id="n43-8"><use href="#YR" x="448"/></g><g id="n43-9"><use href="#LR" x="500"/></g></g>
<g id="row44" transform="translate(0,2298)"><g id="n44-1"><use href="#LL" x="84"/></g><g id="n44-2"><use href="#YL" x="136"/></g><g id="n44-3"><use href="#YL" x="188"/></g><g id="n44-4"><use href="#YL" x="240"/></g><g id="n44-5"><use href="#YL" x="292"/></g><g id="n44-6"><use href="#DL" x="344"/></g><g id="n44-7"><use href="#DL" x="396"/></g><g id="n44-8"><use href="#DL" x="448"/></g><g id="n44-9"><use href="#LL" x="500"/></g></g>
<g id="row45" transform="translate(0,2350)"><g id="n45-1"><use href="#LR" x="84"/></g><g id="n45-2"><use href="#YR" x="136"/></g><g id="n45-3"><use href="#YR" x="188"/></g><g id="n45-4"><use href="#YR" x="240"/></g><g id="n45-5"><use href="#YR" x="292"/></g><g id="n45-6"><use href="#DR" x="344"/></g><g id="n45-7"><use href="#DR" x="396"/></g><g id="n45-8"><use href="#DR" x="448"/></g><g id="n45-9"><use href="#LR" x="500"/></g></g>
<g id="row46" transform="translate(0,2402)"><g id="n46-1"><use href="#LL" x="84"/></g><g id="n46-2"><use href="#DL" x="136"/></g><g id="n46-3"><use href="#DL" x="188"/></g><g id="n46-4"><use href="#DL" x="240"/></g><g id="n46-5"><use href="#YL" x="292"/></g><g id="n46-6"><use href="#YL" x="344"/></g><g id="n46-7"><use href="#YL" x="396"/></g><g id="n46-8"><use href="#YL" x="448"/></g><g id="n46-9"><use href="#LL" x="500"/></g></g>
<g id="row47" transform="translate(0,2454)"><g id="n47-1"><use href="#LR" x="84"/></g><g id="n47-2"><use href="#DR" x="136"/></g><g id="n47-3"><use href="#DR" x="188"/></g><g id="n47-4"><use href="#DR" x="240"/></g><g id="n47-5"><use href="#DR" x="292"/></g><g id="n47-6"><use href="#YR" x="344"/></g><g id="n47-7"><use href="#YR" x="396"/></g><g id="n47-8"><use href="#YR" x="448"/></g><g id="n47-9"><use href="#LR" x="500"/></g></g>
<g id="row48" transform="translate(0,2506)"><g id="n48-1"><use href="#LL" x="84"/></g><g id="n48-2"><use href="#LL" x="136"/></g><g id="n48-3"><use href="#LL" x="188"/></g><g id="n48-4"><use href="#LL" x="240"/></g><g id="n48-5"><use href="#LL" x="292"/></g><g id="n48-6"><use href="#LL" x="344"/></g><g id="n48-7"><use href="#LL" x="396"/></g><g id="n48-8"><use href="#LL" x="448"/></g><g id="n48-9"><use href="#LL" x="500"/></g></g>
</g>
<g id="tail-labels" class="lab">
<text x="31" y="66" fill="#fff">A</text>
<text x="31" y="2510" fill="#fff">A</text>
<text x="547" y="118" fill="#222">B</text>
<text x="547" y="2458" fill="#222">B</text>
</g>
<text id="watermark" x="292" y="1289" text-anchor="middle" font-family="'Liberation Sans',Arial,sans-serif" font-weight="bold" font-size="14" fill="#3c3c3c">BRACELETBOOK.COM</text>
</svg>
